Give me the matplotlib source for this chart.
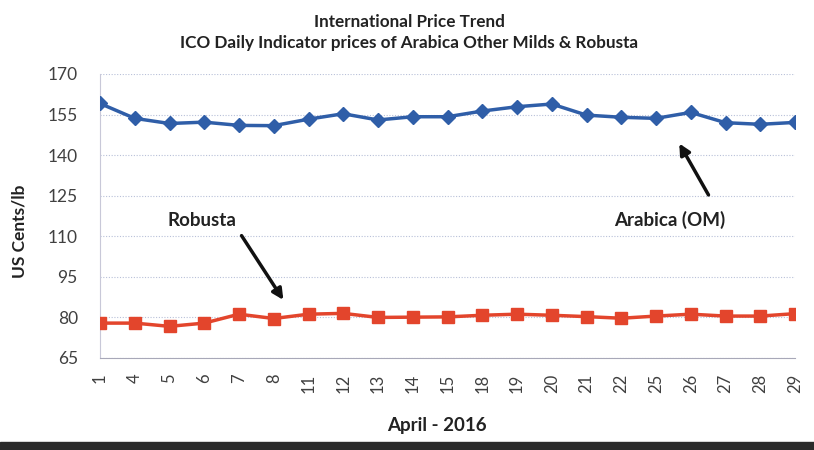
import matplotlib
matplotlib.use("Agg")
import matplotlib.pyplot as plt
from matplotlib.patches import Rectangle

days = ["1", "4", "5", "6", "7", "8", "11", "12", "13", "14", "15",
        "18", "19", "20", "21", "22", "25", "26", "27", "28", "29"]
arabica = [159.1, 153.6, 151.7, 152.2, 151.0, 150.9, 153.3, 155.3, 153.0, 154.2, 154.2,
           156.3, 157.9, 158.9, 154.8, 154.0, 153.6, 155.8, 152.0, 151.4, 152.1]
robusta = [77.9, 77.9, 76.7, 77.9, 81.2, 79.6, 81.2, 81.5, 80.0, 80.1, 80.2,
           80.8, 81.2, 80.8, 80.3, 79.7, 80.5, 81.2, 80.5, 80.5, 81.4]
yticks = [65, 80, 95, 110, 125, 140, 155, 170]

plt.rcParams['font.family'] = ['Lato', 'DejaVu Sans']

fig = plt.figure(figsize=(8.14, 4.5), dpi=100)
ax = fig.add_axes([100/814, 1 - 358/450, 695/814, 284/450])

x = list(range(len(days)))
ax.plot(x, arabica, color='#2f5ea8', lw=2.5, marker='D', markersize=7, zorder=3)
ax.plot(x, robusta, color='#e3452c', lw=2.5, marker='s', markersize=8, zorder=3)

ax.set_xlim(0, len(days) - 1)
ax.set_ylim(65, 170)
ax.set_yticks(yticks)
ax.set_xticks(x)
ax.set_xticklabels(days, rotation=90, fontsize=12, color='#404040')
ax.tick_params(axis='y', labelsize=12.5, colors='#404040', length=0, pad=16)
ax.tick_params(axis='x', length=0, pad=11)
ax.yaxis.grid(True, linestyle=(0, (1, 1.5)), color='#b8c0d8', lw=0.8)
ax.set_axisbelow(True)
for s in ['top', 'right']:
    ax.spines[s].set_visible(False)
ax.spines['left'].set_color('#c8c8d8')
ax.spines['bottom'].set_color('#a8a8b8')

fig.text(20/814, 1 - 231/450, "US Cents/lb", rotation=90, ha='center', va='center',
         fontsize=12.5, fontweight='bold', color='#222222')
fig.text(437/814, 1 - 425/450, "April - 2016", ha='center', va='center',
         fontsize=13.5, fontweight='bold', color='#222222')

fig.text(409/814, 1 - 22/450, "International Price Trend", ha='center', va='center',
         fontsize=12.3, fontweight='bold', color='#222222')
fig.text(409/814, 1 - 43/450, "ICO Daily Indicator prices of Arabica Other Milds & Robusta",
         ha='center', va='center', fontsize=12.3, fontweight='bold', color='#222222')

ax.text(2.94, 116.0, "Robusta", ha='center', va='center', fontsize=13.5,
        fontweight='bold', color='#222222')
ax.text(16.4, 116.0, "Arabica (OM)", ha='center', va='center', fontsize=13.5,
        fontweight='bold', color='#222222')
ax.annotate("", xy=(5.32, 85.6), xytext=(4.03, 111.1),
            arrowprops=dict(arrowstyle='-|>', color='#111111', lw=2.5, mutation_scale=16))
ax.annotate("", xy=(16.63, 145.2), xytext=(17.55, 124.4),
            arrowprops=dict(arrowstyle='-|>', color='#111111', lw=2.5, mutation_scale=16))

fig.patches.append(Rectangle((0, 0), 1, 8/450, transform=fig.transFigure,
                             color='#2b2b2b', zorder=0))

fig.savefig("out.png", dpi=100)
